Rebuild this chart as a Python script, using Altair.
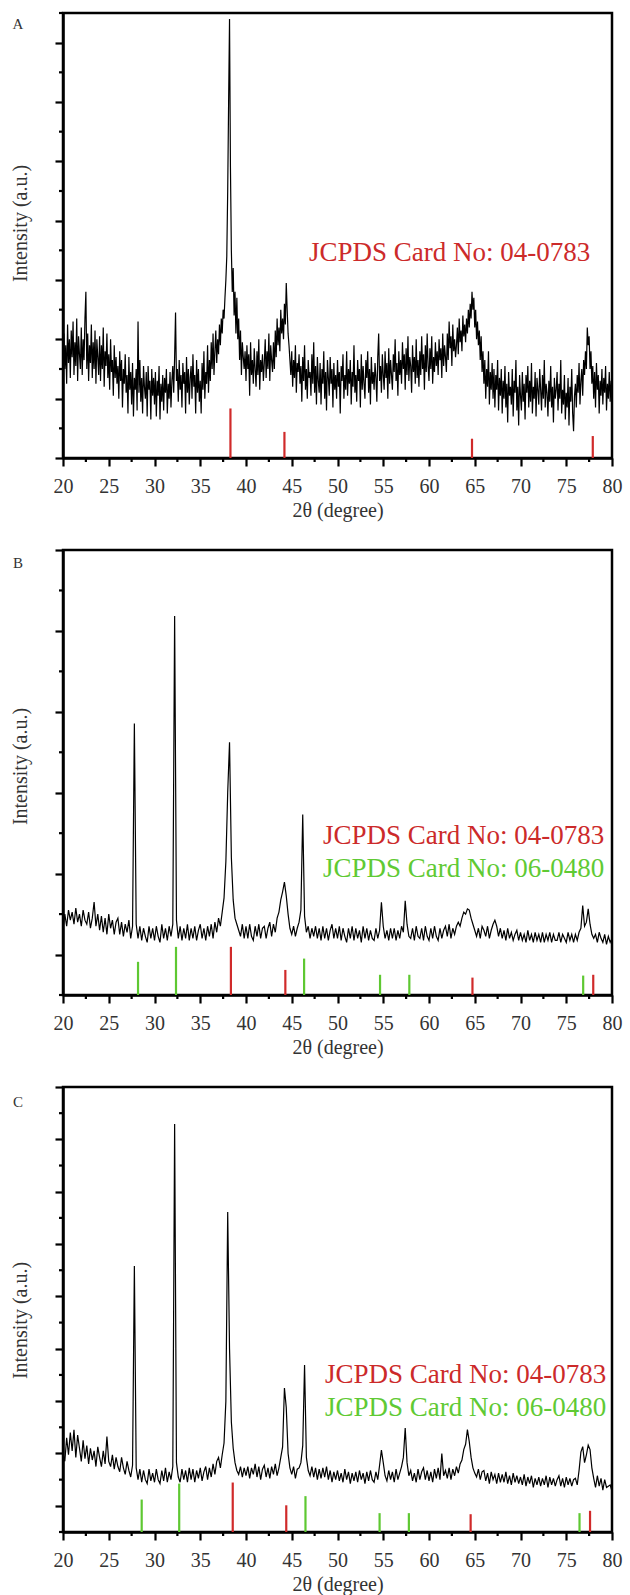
import altair as alt
import pandas as pd

FONT = "Liberation Serif, Times New Roman, Times, serif"
RED = "#d02a2a"
GREEN = "#5ec832"
TXT_RED = "#cc2a2a"
TXT_GREEN = "#5fca34"

X_START = 20.0
A_STEP = 0.1
BC_STEP = 0.2

X_TICKS = [20, 25, 30, 35, 40, 45, 50, 55, 60, 65, 70, 75, 80]
X_MINOR = [22.5, 27.5, 32.5, 37.5, 42.5, 47.5, 52.5, 57.5, 62.5, 67.5, 72.5, 77.5]

# ---------------- Panel A (step 0.1 deg) ----------------
A_y = [
    290, 420, 300, 380, 250, 450, 320, 400, 270, 430,
    340, 460, 280, 390, 310, 470, 260, 410, 350, 300,
    440, 280, 400, 330, 470, 560, 300, 420, 260, 380,
    320, 450, 270, 390, 300, 430, 250, 400, 340, 280,
    410, 260, 380, 300, 440, 240, 360, 310, 420, 270,
    350, 230, 400, 290, 330, 210, 380, 270, 340, 250,
    310, 200, 360, 260, 330, 170, 300, 250, 350, 220,
    280, 150, 340, 230, 290, 180, 320, 140, 270, 230,
    300, 160, 460, 220, 330, 190, 270, 150, 310, 240,
    200, 290, 140, 310, 230, 260, 130, 300, 210, 270,
    180, 290, 140, 260, 210, 310, 130, 250, 190, 280,
    160, 270, 220, 300, 150, 250, 200, 290, 170, 260,
    310, 220, 340, 490, 260, 300, 190, 330, 230, 280,
    170, 320, 250, 290, 150, 340, 220, 300, 180, 270,
    310, 200, 350, 240, 280, 150, 330, 220, 300, 190,
    260, 150, 320, 230, 360, 200, 290, 250, 380, 220,
    330, 260, 390, 300, 420, 280, 360, 430, 320, 400,
    350, 450, 380, 470, 420, 500, 470, 540, 600, 680,
    900, 1200, 1480, 980, 700, 560, 640, 480, 560, 420,
    540, 400, 470, 330, 430, 280, 390, 340, 300, 360,
    260, 380, 300, 350, 210, 390, 280, 330, 250, 370,
    300, 240, 360, 280, 400, 230, 330, 290, 350, 260,
    320, 400, 270, 360, 300, 420, 260, 380, 330, 290,
    390, 300, 430, 340, 470, 380, 440, 360, 500, 420,
    470, 400, 520, 450, 590, 500, 420, 380, 330, 280,
    360, 240, 330, 270, 380, 220, 320, 290, 350, 250,
    310, 190, 340, 260, 380, 230, 300, 200, 330, 270,
    290, 210, 350, 250, 390, 220, 310, 180, 340, 260,
    220, 320, 180, 300, 250, 360, 200, 290, 160, 330,
    270, 210, 340, 250, 300, 170, 320, 230, 280, 200,
    330, 240, 290, 150, 310, 260, 350, 200, 280, 230,
    360, 210, 300, 250, 330, 180, 290, 240, 380, 220,
    280, 190, 330, 260, 300, 170, 350, 230, 310, 250,
    200, 330, 270, 360, 220, 300, 180, 340, 250, 290,
    230, 320, 270, 190, 340, 420, 260, 310, 220, 350,
    280, 230, 360, 270, 320, 200, 370, 250, 330, 280,
    230, 350, 290, 400, 260, 320, 210, 360, 280, 330,
    250, 390, 300, 350, 230, 370, 280, 410, 260, 340,
    310, 220, 380, 290, 340, 250, 400, 270, 330, 240,
    360, 280, 410, 300, 350, 230, 380, 290, 420, 310,
    260, 370, 300, 410, 250, 340, 290, 390, 310, 360,
    280, 400, 330, 370, 270, 420, 310, 380, 340, 290,
    420, 330, 460, 370, 410, 310, 450, 360, 400, 340,
    380, 440, 350, 470, 390, 430, 360, 480, 410, 450,
    390, 470, 420, 500, 440, 520, 470, 560, 500, 540,
    440, 500, 400, 460, 380, 430, 330, 410, 290, 360,
    250, 330, 200, 300, 240, 360, 180, 290, 230, 320,
    200, 300, 170, 280, 230, 330, 160, 270, 210, 300,
    150, 260, 200, 310, 170, 250, 120, 290, 210, 240,
    180, 300, 140, 260, 220, 330, 160, 240, 110, 280,
    210, 160, 290, 190, 250, 130, 280, 220, 310, 170,
    260, 190, 320, 150, 240, 200, 290, 140, 270, 230,
    180, 300, 230, 160, 280, 200, 330, 170, 250, 220,
    140, 260, 190, 310, 170, 240, 120, 270, 200, 230,
    290, 160, 250, 200, 330, 150, 230, 180, 280, 130,
    220, 170, 270, 110, 240, 190, 300, 150, 90, 210,
    250, 170, 280, 220, 320, 180, 260, 300, 210, 330,
    280, 360, 300, 440, 380, 410, 300, 360, 250, 310,
    200, 290, 170, 320, 230, 280, 150, 260, 210, 300,
    180, 270, 220, 310, 160, 250, 200, 290, 190, 260,
    220,
]
A_YTICKS = [0, 200, 400, 600, 800, 1000, 1200, 1400]
A_YMINOR = [100, 300, 500, 700, 900, 1100, 1300, 1500]
A_red_pos = [38.3, 44.2, 64.7, 77.9]
A_red_top = [167, 88, 65, 74]
A_green_pos = []
A_green_top = []

# ---------------- Panel B (step 0.2 deg) ----------------
B_y = [
    265, 300, 270, 310, 285, 305, 275, 315, 280, 300,
    270, 310, 285, 275, 305, 265, 290, 330, 270, 300,
    260, 295, 255, 290, 250, 300, 265, 285, 250, 280,
    290, 250, 280, 245, 275, 255, 285, 240, 270, 771,
    275, 240, 270, 235, 265, 245, 230, 270, 240, 265,
    235, 270, 245, 230, 275, 240, 265, 235, 270, 245,
    275, 1037, 285, 240, 270, 235, 265, 240, 275, 235,
    265, 240, 270, 235, 260, 275, 240, 265, 235, 270,
    245, 275, 240, 280, 255, 290, 270, 305, 340, 430,
    600, 725, 440, 335, 290, 275, 260, 245, 275, 240,
    270, 240, 275, 245, 235, 270, 245, 275, 240, 265,
    270, 240, 265, 280, 245, 275, 255, 290, 305, 335,
    355, 379, 345, 300, 265, 250, 270, 245, 265, 280,
    310, 546, 295, 255, 270, 240, 265, 245, 270, 240,
    265, 235, 270, 240, 265, 235, 260, 275, 240, 265,
    240, 270, 235, 265, 245, 230, 265, 240, 270, 235,
    265, 240, 260, 230, 270, 240, 265, 235, 260, 240,
    235, 265, 240, 260, 329, 270, 240, 260, 235, 265,
    240, 265, 235, 260, 240, 270, 255, 333, 275, 245,
    240, 265, 235, 270, 245, 240, 265, 235, 270, 245,
    235, 265, 240, 270, 245, 235, 265, 240, 260, 270,
    245, 275, 240, 265, 250, 270, 280, 270, 290, 305,
    300, 313, 310, 290, 275, 260, 245, 265, 240, 270,
    260, 245, 270, 240, 260, 275, 285, 270, 245, 265,
    240, 260, 235, 265, 240, 255, 235, 250, 260, 235,
    255, 235, 250, 230, 260, 235, 250, 230, 255, 235,
    250, 230, 255, 230, 250, 235, 255, 230, 250, 235,
    235, 255, 230, 250, 240, 230, 255, 235, 250, 230,
    250, 235, 255, 265, 321, 270, 280, 313, 275, 250,
    240, 250, 230, 255, 240, 230, 250, 225, 245, 230,
    240,
]
B_YTICKS = [200, 400, 600, 800, 1000, 1200]
B_YMINOR = [100, 300, 500, 700, 900, 1100]
B_red_pos = [38.35, 44.3, 64.75, 77.95]
B_red_top = [219, 162, 143, 150]
B_green_pos = [28.2, 32.35, 46.35, 54.65, 57.85, 76.85]
B_green_top = [182, 219, 190, 150, 150, 148]

# ---------------- Panel C (step 0.2 deg) ----------------
C_y = [
    400, 370, 460, 395, 480, 410, 490, 385, 470, 420,
    370, 450, 380, 430, 360, 420, 375, 410, 350, 425,
    385, 350, 410, 360, 465, 370, 350, 395, 340, 385,
    350, 330, 385, 345, 320, 370, 335, 310, 355, 1116,
    345, 300, 340, 290, 335, 300, 285, 340, 295, 325,
    290, 340, 300, 285, 335, 295, 345, 290, 330, 300,
    350, 1659, 365, 310, 290, 340, 300, 335, 290, 345,
    300, 340, 290, 335, 305, 345, 295, 330, 350, 300,
    345, 310, 360, 320, 370, 385, 345, 395, 440, 600,
    1322, 800, 520, 420, 365, 335, 320, 350, 310, 345,
    315, 350, 305, 345, 320, 360, 310, 350, 300, 340,
    355, 310, 345, 305, 350, 320, 360, 315, 345, 385,
    425, 650, 575, 400, 345, 320, 350, 305, 340, 345,
    365, 430, 738, 385, 335, 315, 350, 310, 345, 300,
    340, 305, 345, 310, 350, 300, 335, 290, 330, 300,
    335, 295, 325, 290, 340, 300, 330, 285, 325, 295,
    330, 290, 335, 300, 325, 285, 330, 295, 335, 300,
    290, 330, 300, 355, 413, 365, 315, 295, 335, 300,
    330, 290, 340, 300, 325, 350, 385, 497, 365, 315,
    335, 295, 325, 290, 340, 300, 330, 345, 300, 335,
    295, 330, 290, 340, 305, 345, 300, 400, 315, 335,
    305, 345, 300, 340, 315, 350, 325, 360, 375, 415,
    435, 491, 445, 385, 345, 325, 310, 340, 300, 330,
    335, 295, 325, 285, 330, 300, 320, 285, 325, 290,
    320, 290, 330, 285, 315, 280, 325, 290, 315, 285,
    310, 280, 320, 275, 310, 285, 315, 270, 305, 280,
    310, 275, 305, 280, 315, 270, 310, 280, 305, 275,
    300, 315, 275, 305, 270, 310, 280, 305, 275, 300,
    305, 280, 335, 405, 426, 365, 395, 432, 415, 345,
    305, 270, 315, 275, 305, 260, 300, 270, 275, 280,
    255,
]
C_YTICKS = [200, 400, 600, 800, 1000, 1200, 1400, 1600, 1800]
C_YMINOR = [100, 300, 500, 700, 900, 1100, 1300, 1500, 1700]
C_red_pos = [38.55, 44.4, 64.55, 77.6]
C_red_top = [289, 202, 168, 181]
C_green_pos = [28.6, 32.7, 46.5, 54.6, 57.8, 76.45]
C_green_top = [224, 285, 237, 172, 172, 172]

CARD_RED = "JCPDS Card No: 04-0783"
CARD_GREEN = "JCPDS Card No: 06-0480"

W, H = 549, 445
MAJOR = 8
MINOR = 4


def text_layer(label, color, size, px, py, align="left"):
    return alt.Chart(pd.DataFrame({"t": [label]})).mark_text(
        font=FONT, fontSize=size, color=color, align=align, baseline="middle"
    ).encode(text="t:N", x=alt.value(px), y=alt.value(py))


def panel(letter, ys, step, ydom, yticks, yminor, title_y, red_pos, red_top,
          green_pos, green_top, labels, letter_y, lw):
    xs = [round(X_START + step * i, 2) for i in range(len(ys))]
    df = pd.DataFrame({"theta": xs, "I": ys})
    xscale = alt.Scale(domain=[20, 80], nice=False, zero=False)
    yscale = alt.Scale(domain=ydom, nice=False, zero=False)
    xaxis = alt.Axis(
        values=X_TICKS, format="d", tickSize=MAJOR,
        labelFlush=False, labelOverlap=False, grid=False,
        title="2θ (degree)", labelPadding=10, titlePadding=4,
    )
    yaxis = alt.Axis(
        values=yticks, labels=False, grid=False, tickSize=MAJOR,
        title="Intensity (a.u.)", titleX=-43, titleY=title_y,
        titleBaseline="middle", titleAngle=270,
    )
    line = alt.Chart(df).mark_line(color="black", strokeWidth=lw).encode(
        x=alt.X("theta:Q", scale=xscale, axis=xaxis),
        y=alt.Y("I:Q", scale=yscale, axis=yaxis),
    )
    sdf = pd.DataFrame({
        "pos": red_pos + green_pos,
        "top": red_top + green_top,
        "base": [ydom[0]] * (len(red_pos) + len(green_pos)),
        "c": [RED] * len(red_pos) + [GREEN] * len(green_pos),
    })
    sticks = alt.Chart(sdf).mark_rule(strokeWidth=2.2).encode(
        x=alt.X("pos:Q", scale=xscale),
        y=alt.Y("base:Q", scale=yscale),
        y2="top:Q",
        color=alt.Color("c:N", scale=None),
    )
    xminor = alt.Chart(pd.DataFrame({"m": X_MINOR})).mark_rule(
        color="black", strokeWidth=2.2
    ).encode(
        x=alt.X("m:Q", scale=xscale),
        y=alt.value(H), y2=alt.value(H + MINOR),
    )
    yminor_l = alt.Chart(pd.DataFrame({"m": yminor})).mark_rule(
        color="black", strokeWidth=2.2
    ).encode(
        y=alt.Y("m:Q", scale=yscale),
        x=alt.value(0), x2=alt.value(-MINOR),
    )
    layers = [line, sticks, xminor, yminor_l]
    for lab, col, px, py in labels:
        layers.append(text_layer(lab, col, 27, px, py))
    layers.append(text_layer(letter, "#333333", 15, -45, letter_y, align="center"))
    return alt.layer(*layers).properties(width=W, height=H)


pA = panel("A", A_y, A_STEP, [0, 1500], A_YTICKS, A_YMINOR, 210,
           A_red_pos, A_red_top, A_green_pos, A_green_top,
           [(CARD_RED, TXT_RED, 246, 240)], 11, 1.2)
pB = panel("B", B_y, BC_STEP, [100, 1200], B_YTICKS, B_YMINOR, 216,
           B_red_pos, B_red_top, B_green_pos, B_green_top,
           [(CARD_RED, TXT_RED, 260, 286), (CARD_GREEN, TXT_GREEN, 260, 319)], 13, 1.2)
pC = panel("C", C_y, BC_STEP, [100, 1800], C_YTICKS, C_YMINOR, 233,
           C_red_pos, C_red_top, C_green_pos, C_green_top,
           [(CARD_RED, TXT_RED, 262, 288), (CARD_GREEN, TXT_GREEN, 262, 321)], 15, 1.2)

chart = alt.vconcat(pA, pB, pC, spacing=92, bounds="flush").properties(
    padding={"left": 8, "top": 10, "right": 0, "bottom": 0},
    background="white",
).configure_view(
    stroke="black", strokeWidth=2.5
).configure_text(
    font=FONT
).configure_axis(
    labelFont=FONT, labelFontSize=20, labelColor="#333333",
    titleFont=FONT, titleFontSize=20, titleFontWeight="normal", titleColor="#333333",
    domainColor="black", domainWidth=2.5, tickColor="black", tickWidth=2.2,
)

chart.save("out.html", embed_options={"renderer": "svg", "actions": False})
